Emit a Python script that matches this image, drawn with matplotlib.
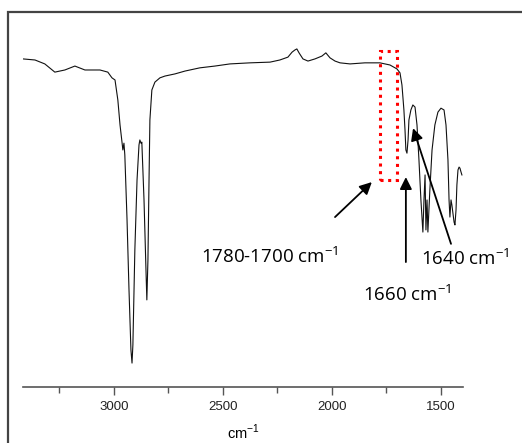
import matplotlib
matplotlib.use("Agg")
import matplotlib.pyplot as plt
from matplotlib.patches import Rectangle

# wavenumber (cm-1) and transmittance (%)
wavenumber = [3417, 3362, 3317, 3271, 3225, 3179, 3133, 3064, 3028, 3009,
              2995, 2982, 2972, 2963, 2959, 2954, 2950, 2940, 2931, 2922,
              2917, 2913, 2904, 2894, 2885, 2881, 2876, 2872, 2862, 2853,
              2849, 2844, 2839, 2835, 2826, 2812, 2789, 2766, 2743, 2720,
              2674, 2606, 2537, 2468, 2376, 2284, 2239, 2202, 2183, 2170,
              2161, 2151, 2133, 2110, 2078, 2046, 2028, 2009, 1986, 1963,
              1917, 1849, 1780, 1734, 1702, 1688, 1679, 1670, 1665, 1661,
              1656, 1651, 1647, 1638, 1629, 1619, 1610, 1601, 1592, 1583,
              1578, 1573, 1569, 1564, 1560, 1551, 1541, 1528, 1514, 1500,
              1486, 1477, 1468, 1463, 1459, 1454, 1450, 1440, 1436, 1431,
              1427, 1422, 1417, 1413, 1408, 1404]
transmittance = [91.9, 91.6, 90.5, 88.2, 88.8, 89.9, 88.8, 88.8, 88.2, 86.6,
                 86.0, 80.4, 73.4, 68.6, 66.4, 68.3, 65.0, 47.1, 27.5, 10.4,
                 6.7, 11.8, 38.4, 58.0, 67.8, 69.2, 68.3, 68.6, 52.4, 32.8,
                 24.4, 35.6, 58.0, 74.8, 83.2, 85.4, 86.6, 87.1, 87.4, 87.7,
                 88.5, 89.4, 89.9, 90.5, 90.8, 91.0, 91.6, 92.4, 93.8, 94.4,
                 94.7, 93.6, 91.9, 91.3, 91.9, 92.7, 93.6, 92.2, 91.3, 90.8,
                 90.5, 90.8, 90.8, 90.2, 89.1, 88.0, 84.6, 77.6, 72.0, 66.4,
                 65.5, 69.2, 74.8, 77.6, 79.0, 78.4, 73.4, 63.6, 52.4, 43.4,
                 52.4, 59.4, 44.0, 52.4, 43.4, 55.2, 66.4, 73.4, 77.0, 78.1,
                 77.6, 73.4, 63.6, 52.4, 47.6, 52.4, 51.0, 46.2, 45.4, 49.6,
                 56.6, 60.8, 61.6, 61.3, 60.2, 59.4]

major_ticks = [3000, 2500, 2000, 1500]
minor_ticks = [3250, 2750, 2250, 1750]

plt.rcParams['mathtext.fontset'] = 'custom'
label_font = ['Open Sans', 'DejaVu Sans']

fig = plt.figure(figsize=(5.22, 4.43), dpi=100)
fig.add_artist(Rectangle((8 / 522, -0.1), 2, (443 - 12) / 443 + 0.1,
                         transform=fig.transFigure, fill=False,
                         ec='#444444', lw=1.6))

ax = fig.add_axes([23 / 522, 1 - 387 / 443, 440 / 522, (387 - 30) / 443])
ax.plot(wavenumber, transmittance, color='#111111', lw=0.8)
ax.set_xlim(3417, 1399)
ax.set_ylim(0, 100)

for s in ['left', 'top', 'right']:
    ax.spines[s].set_visible(False)
ax.spines['bottom'].set_color('#555555')
ax.spines['bottom'].set_linewidth(1.2)
ax.set_yticks([])
ax.set_xticks(major_ticks)
ax.set_xticks(minor_ticks, minor=True)
ax.tick_params(axis='x', which='major', length=6, width=1, color='#555555',
               labelsize=9.5, labelcolor='#222222', pad=4)
ax.tick_params(axis='x', which='minor', length=4, width=1, color='#555555')
for lab in ax.get_xticklabels():
    lab.set_family('Liberation Sans')
ax.set_xlabel(r'cm$^{\mathregular{-1}}$', family='Liberation Sans',
              fontsize=10.5, labelpad=7)

# dotted box around 1780-1700
ax.add_patch(Rectangle((1780, 58.0), -80, 36.1, fill=False, ec='red',
                       ls=(0, (1, 1.5)), lw=2.2))

arrow = dict(arrowstyle='-|>', color='black', lw=1.3, mutation_scale=18,
             shrinkA=0, shrinkB=0)
ax.annotate('', xy=(1817, 57.4), xytext=(1986, 47.6), arrowprops=arrow)
ax.annotate('', xy=(1661, 58.8), xytext=(1661, 35.0), arrowprops=arrow)
ax.annotate('', xy=(1628, 72.5), xytext=(1454, 40.1), arrowprops=arrow,
            annotation_clip=False)

ax.text(2284, 36.4, r'1780-1700 cm$^{\mathregular{-1}}$', fontsize=13.5,
        family=label_font, ha='center', va='center')
ax.text(1656, 25.8, r'1660 cm$^{\mathregular{-1}}$', fontsize=13.5,
        family=label_font, ha='center', va='center', clip_on=False)
ax.text(1390, 36.1, r'1640 cm$^{\mathregular{-1}}$', fontsize=13.5,
        family=label_font, ha='center', va='center', clip_on=False)

fig.savefig('out.png', dpi=100)
